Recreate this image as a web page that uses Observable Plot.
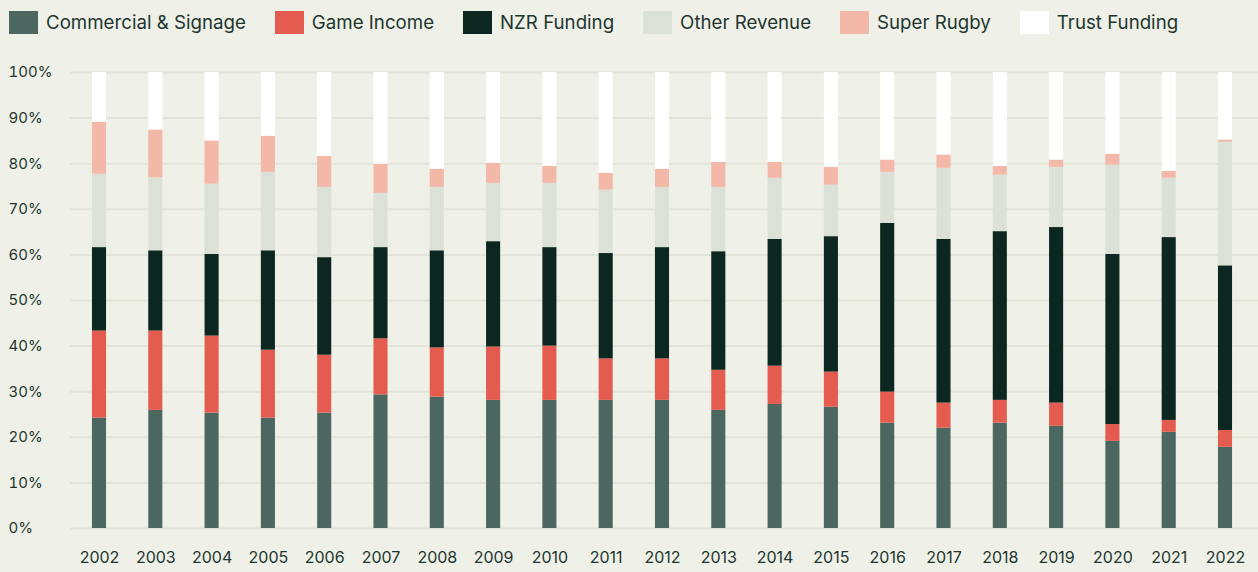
<!DOCTYPE html>
<html>
<head>
<meta charset="utf-8">
<script src="https://cdn.jsdelivr.net/npm/d3@7"></script>
<script src="https://cdn.jsdelivr.net/npm/@observablehq/plot@0.6"></script>
<style>
  html, body { margin: 0; padding: 0; background: #eff0e7; }
  body { width: 1258px; height: 572px; overflow: hidden; font-family: Inter, "Noto Sans", sans-serif; color: #22362f; }
  #legend { display: flex; align-items: center; height: 44px; padding-left: 9px; box-sizing: border-box; font-size: 18.7px; }
  #legend .item { display: flex; align-items: center; margin-right: 29px; }
  #legend .sw { width: 29px; height: 23px; margin-right: 8px; }
</style>
</head>
<body>
<div id="legend"></div>
<div id="chart"></div>
<script>
const years = ["2002","2003","2004","2005","2006","2007","2008","2009","2010","2011","2012","2013","2014","2015","2016","2017","2018","2019","2020","2021","2022"];
const seriesNames = ["Commercial & Signage","Game Income","NZR Funding","Other Revenue","Super Rugby","Trust Funding"];
const seriesColors = ["#4b675f","#e45c4f","#0c2620","#dce1d7","#f4b8a8","#ffffff"];

const commercial = [24.2,25.9,25.3,24.2,25.3,29.3,28.8,28.1,28.1,28.1,28.1,25.9,27.2,26.6,23.1,22.0,23.1,22.4,19.1,21.1,17.8];
const gameIncome = [19.1,17.4,16.9,14.9,12.7,12.3,10.8,11.7,11.9,9.1,9.1,8.8,8.4,7.7,6.8,5.5,5.0,5.1,3.7,2.6,3.7];
const nzrFunding = [18.3,17.6,17.9,21.8,21.4,20.0,21.3,23.1,21.6,23.1,24.4,26.0,27.8,29.7,37.0,35.9,37.0,38.5,37.3,40.1,36.1];
const otherRevenue = [16.1,16.0,15.4,17.2,15.4,11.9,13.9,12.8,14.1,13.9,13.2,14.1,13.4,11.3,11.2,15.6,12.4,13.2,19.6,13.0,27.1];
const superRugby = [11.4,10.5,9.5,7.9,6.8,6.4,4.0,4.4,3.7,3.7,4.0,5.5,3.5,3.9,2.7,2.9,1.9,1.6,2.4,1.5,0.5];
const trustFunding = [10.9,12.6,15.0,14.0,18.4,20.1,21.2,19.9,20.6,22.1,21.2,19.7,19.7,20.8,19.2,18.1,20.6,19.2,17.9,21.7,14.8];
const yTicks = [0,10,20,30,40,50,60,70,80,90,100];

const seriesValues = [commercial, gameIncome, nzrFunding, otherRevenue, superRugby, trustFunding];
const data = [];
years.forEach((yr, i) => {
  seriesNames.forEach((s, k) => data.push({year: yr, series: s, value: seriesValues[k][i]}));
});

// Legend
const leg = document.getElementById("legend");
seriesNames.forEach((s, k) => {
  const it = document.createElement("div"); it.className = "item";
  const sw = document.createElement("div"); sw.className = "sw"; sw.style.background = seriesColors[k];
  const tx = document.createElement("span"); tx.textContent = s;
  it.appendChild(sw); it.appendChild(tx); leg.appendChild(it);
});

const chart = Plot.plot({
  width: 1258,
  height: 528,
  marginTop: 28,
  marginBottom: 44,
  marginLeft: 70,
  marginRight: 4,
  style: {background: "#eff0e7", fontFamily: "Inter, 'Noto Sans', sans-serif", fontSize: "15px", color: "#22362f"},
  x: {domain: years, paddingInner: 0.75, paddingOuter: 0.39, round: false, label: null},
  y: {domain: [0, 100], label: null},
  color: {domain: seriesNames, range: seriesColors},
  marks: [
    Plot.gridY(yTicks, {stroke: "#e2e3d9", strokeOpacity: 1, strokeWidth: 2, insetRight: -4}),
    Plot.axisY(yTicks, {tickSize: 0, tickPadding: 62, textAnchor: "start", tickFormat: d => d + "%", fill: "#22362f", label: null}),
    Plot.axisX({tickSize: 0, tickPadding: 23, fill: "#22362f", fontSize: 16, label: null}),
    Plot.barY(data, {x: "year", y: "value", fill: "series"})
  ]
});
document.getElementById("chart").appendChild(chart);
</script>
</body>
</html>
